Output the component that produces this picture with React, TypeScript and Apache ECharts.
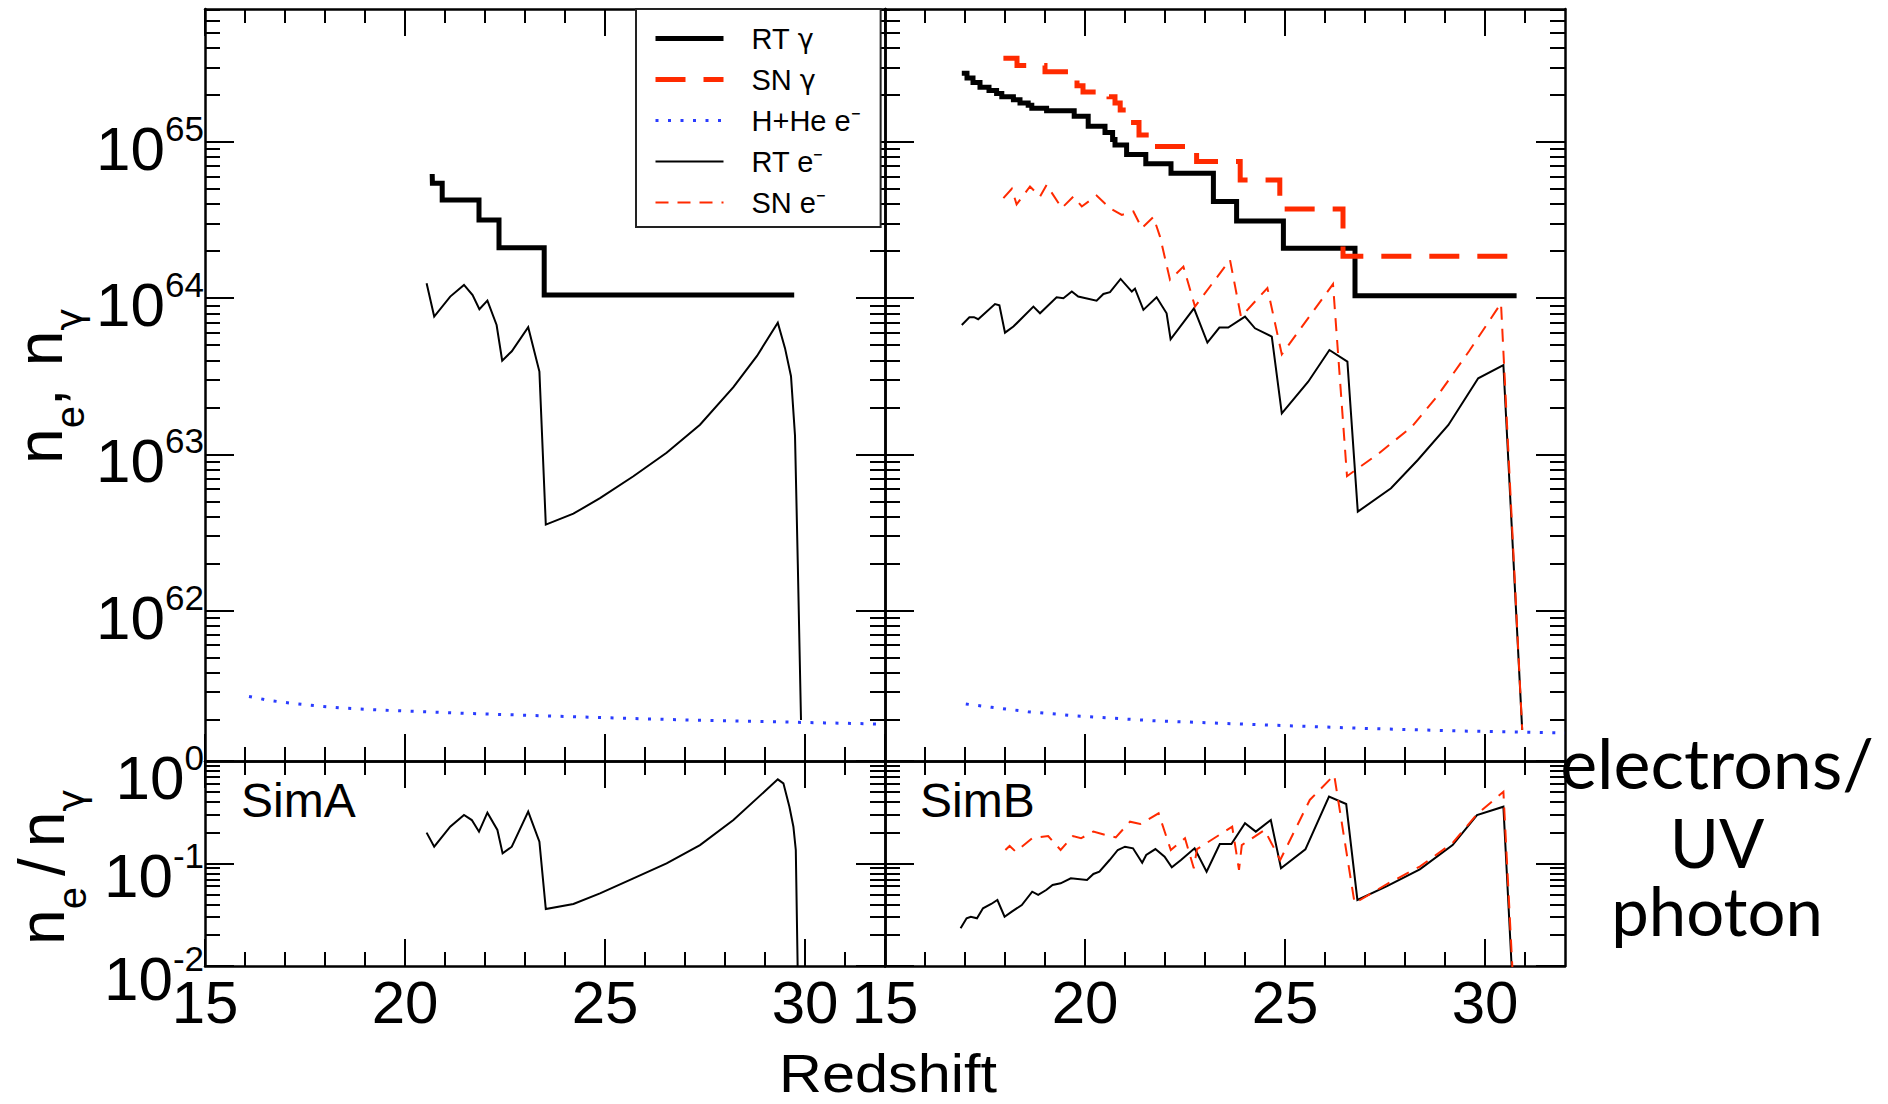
import React, { useEffect, useRef } from "react";
import * as echarts from "echarts";

// ---------------- axis tick values ----------------
const xMajorTicks = [15, 20, 25, 30];
const xMinorTicks = [16, 17, 18, 19, 21, 22, 23, 24, 26, 27, 28, 29, 31];
const topExponents = [62, 63, 64, 65]; // labelled decades of the upper panels (10^n)
const ratioExponents = [-2, -1, 0]; // labelled decades of the lower panels (10^n)
const TOP_LOG_MIN = 61.037;
const TOP_LOG_MAX = 65.851;

// ---------------- data: [redshift, log10(value)] ----------------
// SimA, upper panel
const simA_RTgamma = [
  [20.68, 64.795], [20.685, 64.736], [20.93, 64.629], [21.85, 64.5], [22.35, 64.323],
  [23.48, 64.02], [29.73, 64.02],
];
const simA_RTelec = [
  [20.54, 64.095], [20.73, 63.882], [21.13, 64.01], [21.475, 64.085], [21.69, 64.02],
  [21.86, 63.929], [22.06, 63.984], [22.29, 63.828], [22.43, 63.6], [22.67, 63.66],
  [23.08, 63.814], [23.36, 63.53], [23.52, 62.55], [24.21, 62.62], [24.875, 62.72],
  [25.71, 62.86], [26.54, 63.01], [27.375, 63.19], [28.21, 63.43], [28.8, 63.63],
  [29.32, 63.843], [29.5, 63.68], [29.65, 63.5], [29.75, 63.12], [29.82, 62.3], [29.9, 61.3],
];
const simA_HHe = [
  [16.1, 61.45], [16.6, 61.425], [17.2, 61.405], [17.8, 61.39], [18.5, 61.375], [19.5, 61.362],
  [20.5, 61.352], [21.5, 61.342], [23.0, 61.33], [24.5, 61.318], [26.0, 61.307], [27.5, 61.297],
  [29.0, 61.289], [30.5, 61.281], [32.0, 61.273],
];
// SimA, lower panel (electrons / UV photon)
const simA_ratioRT = [
  [20.54, -0.699], [20.73, -0.836], [21.13, -0.641], [21.475, -0.527], [21.67, -0.576],
  [21.85, -0.69], [22.06, -0.504], [22.31, -0.673], [22.44, -0.901], [22.67, -0.836],
  [23.08, -0.494], [23.36, -0.787], [23.52, -1.444], [24.21, -1.395], [24.875, -1.291],
  [25.71, -1.145], [26.54, -0.998], [27.375, -0.82], [28.21, -0.576], [29.32, -0.179],
  [29.46, -0.218], [29.61, -0.446], [29.71, -0.641], [29.77, -0.868], [29.82, -2.1], [29.9, -2.72],
];

// SimB, upper panel
const simB_RTgamma = [
  [16.92, 65.44], [17.05, 65.41], [17.2, 65.38], [17.375, 65.35], [17.6, 65.33], [17.79, 65.31],
  [17.92, 65.29], [18.21, 65.27], [18.375, 65.25], [18.58, 65.235], [18.67, 65.215], [19.04, 65.2],
  [19.73, 65.165], [20.08, 65.1], [20.5, 65.06], [20.69, 65.015], [20.75, 64.98], [21.04, 64.92],
  [21.52, 64.86], [22.15, 64.8], [23.21, 64.618], [23.79, 64.494], [24.96, 64.32], [26.75, 64.016],
  [30.79, 64.016],
];
const simB_SNgamma = [
  [17.96, 65.536], [18.3, 65.49], [19.0, 65.45], [19.6, 65.4], [19.8, 65.36], [19.95, 65.32],
  [20.6, 65.29], [20.75, 65.25], [20.88, 65.205], [21.05, 65.124], [21.35, 65.045], [21.62, 64.97],
  [22.79, 64.874], [23.88, 64.756], [24.87, 64.571], [26.45, 64.268], [30.84, 64.268],
];
const simB_RTelec = [
  [16.92, 63.828], [17.11, 63.878], [17.225, 63.878], [17.33, 63.865], [17.75, 63.962],
  [17.86, 63.954], [18.0, 63.779], [18.21, 63.818], [18.71, 63.946], [18.875, 63.903],
  [19.29, 64.006], [19.46, 63.999], [19.67, 64.042], [19.83, 64.01], [20.29, 63.984],
  [20.46, 64.027], [20.625, 64.038], [20.89, 64.123], [21.17, 64.042], [21.25, 64.061],
  [21.46, 63.925], [21.79, 64.006], [22.04, 63.903], [22.14, 63.737], [22.725, 63.935],
  [23.06, 63.716], [23.36, 63.812], [23.58, 63.812], [24.0, 63.882], [24.25, 63.807],
  [24.67, 63.754], [24.92, 63.263], [25.58, 63.465], [26.11, 63.668], [26.56, 63.594],
  [26.82, 62.633], [27.65, 62.783], [28.32, 62.964], [29.085, 63.188], [29.83, 63.487],
  [30.46, 63.572], [30.93, 61.236],
];
const simB_SNelec = [
  [17.96, 64.64], [18.17, 64.7], [18.29, 64.6], [18.625, 64.715], [18.875, 64.65], [19.04, 64.725],
  [19.42, 64.576], [19.71, 64.651], [19.92, 64.587], [20.29, 64.657], [20.625, 64.576],
  [20.92, 64.533], [21.21, 64.555], [21.42, 64.448], [21.71, 64.52], [21.875, 64.394],
  [22.125, 64.117], [22.46, 64.202], [22.75, 63.946], [23.625, 64.245], [23.9, 63.88],
  [24.56, 64.065], [24.92, 63.64], [26.2, 64.09], [26.55, 62.86], [27.35, 63.007],
  [28.17, 63.177], [28.8, 63.37], [29.6, 63.66], [30.4, 63.967], [30.93, 61.236],
];
const simB_HHe = [
  [17.02, 61.402], [17.66, 61.381], [18.575, 61.353], [19.8, 61.325], [21.69, 61.295],
  [24.49, 61.268], [26.94, 61.246], [29.39, 61.229], [32.0, 61.217],
];
// SimB, lower panel
const simB_ratioRT = [
  [16.89, -1.632], [17.04, -1.535], [17.145, -1.519], [17.3, -1.535], [17.45, -1.437],
  [17.655, -1.395], [17.81, -1.356], [17.99, -1.519], [18.17, -1.47], [18.42, -1.405],
  [18.68, -1.275], [18.83, -1.307], [19.03, -1.259], [19.19, -1.21], [19.39, -1.193],
  [19.645, -1.145], [20.05, -1.161], [20.21, -1.102], [20.36, -1.08], [20.615, -0.966],
  [20.82, -0.868], [21.0, -0.836], [21.2, -0.852], [21.43, -0.992], [21.53, -0.917],
  [21.76, -0.859], [21.99, -0.933], [22.17, -1.037], [22.4, -0.966], [22.74, -0.852],
  [23.04, -1.08], [23.37, -0.81], [23.66, -0.81], [24.0, -0.608], [24.27, -0.689],
  [24.645, -0.576], [24.9, -1.047], [25.51, -0.862], [26.1, -0.348], [26.53, -0.42],
  [26.81, -1.356], [27.55, -1.22], [28.37, -1.057], [29.19, -0.82], [29.8, -0.527],
  [30.46, -0.446], [30.93, -4.0],
];
const simB_ratioSN = [
  [18.01, -0.868], [18.115, -0.829], [18.27, -0.885], [18.68, -0.754], [19.08, -0.732],
  [19.39, -0.868], [19.7, -0.732], [19.9, -0.754], [20.21, -0.689], [20.5, -0.72],
  [20.77, -0.745], [21.125, -0.592], [21.38, -0.615], [21.84, -0.51], [22.145, -0.868],
  [22.5, -0.754], [22.72, -1.047], [22.8, -0.86], [23.68, -0.641], [23.85, -1.063],
  [23.92, -0.82], [24.49, -0.673], [24.88, -0.966], [25.62, -0.38], [26.23, -0.137],
  [26.74, -1.388], [27.55, -1.2], [28.37, -1.03], [29.19, -0.8], [29.8, -0.52],
  [30.46, -0.3], [30.93, -3.9],
];

const legendNames = ["RT γ", "SN γ", "H+He e⁻", "RT e⁻", "SN e⁻"];

// ---------------- styling ----------------
const BLACK = "#000000";
const RED = "#ff2a00";
const BLUE = "#2a3cff";
const FONT = "Liberation Sans";
const GREEK = "DejaVu Sans";
const axisLineStyle = { color: BLACK, width: 2.5 };
const tickLineStyle = { color: BLACK, width: 2 };
const THICK_DASH = [30, 18];
const THIN_DASH = [13, 9];
const DOTS = [3, 9.5];

function minorLogTicks(lo: number, hi: number) {
  const out: number[] = [];
  for (let n = Math.floor(lo); n <= Math.ceil(hi); n++) {
    for (let k = 2; k <= 9; k++) {
      const v = n + Math.log10(k);
      if (v > lo && v < hi) out.push(v);
    }
  }
  return out;
}

function xAxesFor(grid: number, withLabels: boolean) {
  const mk = (position: string, major: boolean, showLabel: boolean) => ({
    type: "value",
    gridIndex: grid,
    position,
    min: 15,
    max: 32,
    splitLine: { show: false },
    axisLine: { show: major, onZero: false, lineStyle: axisLineStyle },
    axisTick: {
      show: true,
      inside: true,
      length: major ? 27 : 14,
      customValues: major ? xMajorTicks : xMinorTicks,
      lineStyle: tickLineStyle,
    },
    axisLabel: showLabel
      ? {
          show: true,
          customValues: xMajorTicks,
          margin: 28,
          color: BLACK,
          fontFamily: FONT,
          fontSize: 60,
          lineHeight: 16,
          formatter: (v: number) => String(Math.round(v)),
        }
      : { show: false },
  });
  return [mk("bottom", true, withLabels), mk("bottom", false, false), mk("top", true, false), mk("top", false, false)];
}

const tok = (size: number, pad: number[]) => ({
  fontFamily: FONT,
  fontSize: size,
  lineHeight: size,
  padding: pad,
  verticalAlign: "top",
  color: BLACK,
});
const yRich = {
  // upper panels: base centred on the tick, exponent raised
  b: tok(62, [6.5, 0, 6.5, 0]),
  s: tok(35, [0, 0, 0, 0]),
  // lower panels: labels sit slightly below their ticks
  bl: tok(62, [12, 0, 0, 0]),
  sl: tok(35, [5.5, 0, 0, 0]),
  b0: tok(62, [16, 0, 0, 0]),
  s0: tok(35, [9.5, 0, 0, 0]),
};

function yAxesFor(grid: number, lo: number, hi: number, majors: number[], withLabels: boolean, lower: boolean) {
  const minors = minorLogTicks(lo, hi);
  const fmt = (v: number) => {
    const e = Math.round(v);
    if (!lower) return `{b|10}{s|${e}}`;
    if (e === 0) return `{b0|10}{s0|${e}}`;
    return `{bl|10}{sl|${e}}`;
  };
  const mk = (position: string, major: boolean, showLabel: boolean) => ({
    type: "value",
    gridIndex: grid,
    position,
    min: lo,
    max: hi,
    splitLine: { show: false },
    axisLine: { show: major, onZero: false, lineStyle: axisLineStyle },
    axisTick: {
      show: true,
      inside: true,
      length: major ? 29 : 15,
      customValues: major ? majors : minors,
      lineStyle: tickLineStyle,
    },
    axisLabel: showLabel
      ? { show: true, customValues: majors, margin: 1, formatter: fmt, rich: yRich }
      : { show: false },
  });
  return [mk("left", true, withLabels), mk("left", false, false), mk("right", true, false), mk("right", false, false)];
}

function lineSeries(name: string, data: number[][], grid: number, color: string, width: number, type: any, step?: string) {
  return {
    type: "line",
    name,
    data,
    xAxisIndex: grid * 4,
    yAxisIndex: grid * 4,
    symbol: "none",
    showSymbol: false,
    step: step || false,
    clip: true,
    silent: true,
    color,
    itemStyle: { color },
    lineStyle: { color, width, type, cap: "butt", join: "miter" },
    z: 3,
  };
}

const titleRich = {
  n: { fontFamily: FONT, fontSize: 64, lineHeight: 64, verticalAlign: "top", fill: BLACK },
  s: { fontFamily: FONT, fontSize: 40, lineHeight: 40, padding: [42, 0, 0, 0], verticalAlign: "top", fill: BLACK },
  g: { fontFamily: GREEK, fontSize: 38, lineHeight: 40, padding: [42, 0, 0, 0], verticalAlign: "top", fill: BLACK },
};

function buildOption() {
  const grids = [
    { left: 205, top: 9, width: 680, height: 752 },
    { left: 885, top: 9, width: 680, height: 752 },
    { left: 205, top: 761, width: 680, height: 205 },
    { left: 885, top: 761, width: 680, height: 205 },
  ].map((g) => ({ ...g, containLabel: false, outerBoundsMode: "none", show: false }));

  const xAxis = [...xAxesFor(0, false), ...xAxesFor(1, false), ...xAxesFor(2, true), ...xAxesFor(3, true)];
  const yAxis = [
    ...yAxesFor(0, TOP_LOG_MIN, TOP_LOG_MAX, topExponents, true, false),
    ...yAxesFor(1, TOP_LOG_MIN, TOP_LOG_MAX, topExponents, false, false),
    ...yAxesFor(2, -2, 0, ratioExponents, true, true),
    ...yAxesFor(3, -2, 0, ratioExponents, false, true),
  ];

  const series = [
    // SimA upper
    lineSeries("RT γ", simA_RTgamma, 0, BLACK, 5, "solid", "end"),
    lineSeries("H+He e⁻", simA_HHe, 0, BLUE, 3, DOTS),
    lineSeries("RT e⁻", simA_RTelec, 0, BLACK, 2, "solid"),
    // SimB upper
    lineSeries("H+He e⁻", simB_HHe, 1, BLUE, 3, DOTS),
    lineSeries("RT γ", simB_RTgamma, 1, BLACK, 5, "solid", "end"),
    lineSeries("SN γ", simB_SNgamma, 1, RED, 5, THICK_DASH, "end"),
    lineSeries("RT e⁻", simB_RTelec, 1, BLACK, 2, "solid"),
    lineSeries("SN e⁻", simB_SNelec, 1, RED, 2, THIN_DASH),
    // lower panels
    lineSeries("SimA RT ratio", simA_ratioRT, 2, BLACK, 2, "solid"),
    lineSeries("SimB RT ratio", simB_ratioRT, 3, BLACK, 2, "solid"),
    lineSeries("SimB SN ratio", simB_ratioSN, 3, RED, 2, THIN_DASH),
  ];

  const legendStyles: Record<string, any> = {
    "RT γ": { color: BLACK, width: 5, type: "solid" },
    "SN γ": { color: RED, width: 5, type: THICK_DASH },
    "H+He e⁻": { color: BLUE, width: 3, type: DOTS },
    "RT e⁻": { color: BLACK, width: 2, type: "solid" },
    "SN e⁻": { color: RED, width: 2, type: THIN_DASH },
  };

  const plainText = (x: number, y: number, text: string, fontFamily: string, fontSize: number, extra: any = {}) => ({
    type: "text",
    x,
    y,
    scaleX: extra.scaleX || 1,
    silent: true,
    z: 10,
    style: {
      text,
      fontFamily,
      fontSize,
      lineHeight: extra.lineHeight || fontSize,
      fill: BLACK,
      align: extra.align || "center",
      verticalAlign: "middle",
    },
  });

  return {
    animation: false,
    backgroundColor: "#ffffff",
    grid: grids,
    xAxis,
    yAxis,
    series,
    legend: {
      show: true,
      orient: "vertical",
      left: 636,
      top: 9,
      padding: [15, 20, 10, 17],
      itemWidth: 68,
      itemHeight: 20,
      itemGap: 12,
      backgroundColor: "#ffffff",
      borderColor: "#222222",
      borderWidth: 2,
      selectedMode: false,
      itemStyle: { opacity: 0 },
      data: legendNames.map((name) => ({
        name,
        itemStyle: { opacity: 0 },
        lineStyle: legendStyles[name],
      })),
      formatter: (name: string) => name.replace("γ", "{g|γ}"),
      textStyle: {
        fontFamily: FONT,
        fontSize: 29,
        lineHeight: 28,
        color: BLACK,
        padding: [0, 0, 0, 23],
        rich: { g: { fontFamily: GREEK, fontSize: 27, lineHeight: 28, color: BLACK } },
      },
      z: 6,
    },
    graphic: [
      plainText(888, 1073, "Redshift", FONT, 54, { lineHeight: 42, scaleX: 1.1 }),
      {
        type: "text",
        x: 39.5,
        y: 386,
        rotation: Math.PI / 2,
        silent: true,
        style: { text: "{n|n}{s|e}{n|,}{s|  }{n|n}{g|γ}", rich: titleRich, align: "center", verticalAlign: "middle" },
      },
      {
        type: "text",
        x: 42,
        y: 867,
        rotation: Math.PI / 2,
        silent: true,
        style: { text: "{n|n}{s|e}{s| }{n|/}{s| }{n|n}{g|γ}", rich: titleRich, align: "center", verticalAlign: "middle" },
      },
      plainText(241, 800, "SimA", FONT, 48, { align: "left" }),
      plainText(920, 800, "SimB", FONT, 48, { align: "left" }),
      plainText(1717, 762, "electrons/", "Lato", 70, { lineHeight: 56 }),
      plainText(1717, 842, "UV", "Lato", 67, { lineHeight: 54 }),
      plainText(1717, 910, "photon", "Lato", 67, { lineHeight: 54 }),
    ],
  };
}

export default function App() {
  const ref = useRef<HTMLDivElement>(null);
  useEffect(() => {
    if (!ref.current) return;
    const chart = echarts.init(ref.current, null, { renderer: "svg" });
    chart.setOption(buildOption() as any);
    return () => chart.dispose();
  }, []);
  return (
    <div
      ref={ref}
      style={{ position: "fixed", left: 0, top: 0, width: 1888, height: 1104, background: "#ffffff" }}
    />
  );
}
